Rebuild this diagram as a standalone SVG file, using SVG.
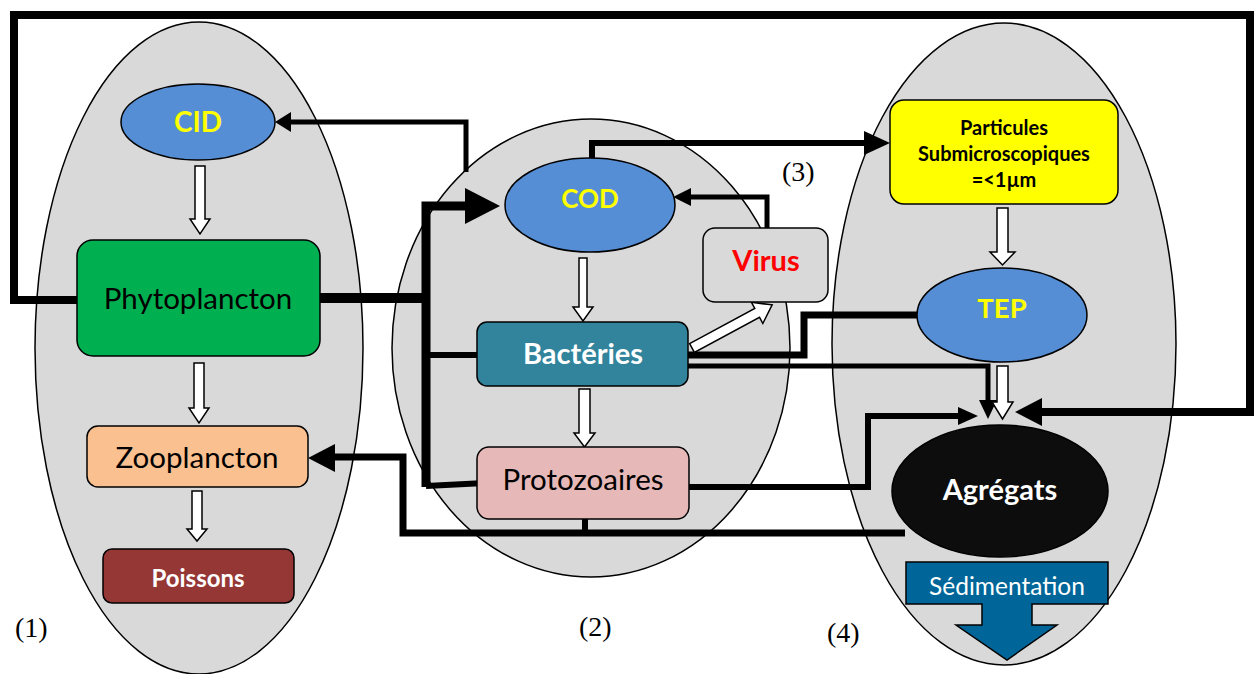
<svg xmlns="http://www.w3.org/2000/svg" width="1258" height="674" viewBox="0 0 1258 674">
<defs>
<style>
.zone{fill:#d9d9d9;stroke:#000;stroke-width:1.5}
.ln{fill:none;stroke:#000;stroke-linejoin:miter;stroke-linecap:butt}
.ah{fill:#000}
.wa{fill:#fff;stroke:#000;stroke-width:1.5;stroke-linejoin:miter}
.nd{stroke:#000;stroke-width:1.5}
.t{font-family:Lato,"Liberation Sans",sans-serif;text-anchor:middle}
.b{font-weight:bold}
.lab{font-family:"Liberation Serif",serif;font-size:28px;fill:#000}
</style>
</defs>
<rect width="1258" height="674" fill="#fff"/>
<g id="zones">
<ellipse class="zone" cx="199" cy="348" rx="164" ry="326"/>
<ellipse class="zone" cx="591" cy="348" rx="199" ry="229"/>
<ellipse class="zone" cx="1004" cy="344" rx="172" ry="321"/>
</g>
<g id="connectors">
<polyline class="ln" stroke-width="8" points="78,300 14,300 14,15 1250,15 1250,412 1040,412"/>
<polygon class="ah" points="1015,412 1042,398 1042,426"/>
<polyline class="ln" stroke-width="5" points="466,172 466,122 288,122"/>
<polygon class="ah" points="275,122 291,112 291,132"/>
<line class="ln" stroke-width="10" x1="320" y1="298" x2="430" y2="298"/>
<polyline class="ln" stroke-width="9" points="426,487 426,206 467,206"/>
<polygon class="ah" points="500,206 465,188 465,224"/>
<line class="ln" stroke-width="6" x1="426" y1="355" x2="483" y2="355"/>
<line class="ln" stroke-width="6" x1="426" y1="486" x2="485" y2="483"/>
<polyline class="ln" stroke-width="6" points="592,160 592,143 866,143"/>
<polygon class="ah" points="890,143 864,131 864,155"/>
<polyline class="ln" stroke-width="5" points="767,228 767,197 688,197"/>
<polygon class="ah" points="673,197 691,188 691,206"/>
<polyline class="ln" stroke-width="7" points="688,355 804,355 804,315 918,315"/>
<polyline class="ln" stroke-width="5" points="685,366 988,366 988,402"/>
<polygon class="ah" points="988,419 979,400 997,400"/>
<polyline class="ln" stroke-width="6" points="689,487 868,487 868,416 960,416"/>
<polygon class="ah" points="978,416 958,407 958,425"/>
<polyline class="ln" stroke-width="7" points="905,533 403,533 403,457 333,457"/>
<polygon class="ah" points="308,458 335,444 335,472"/>
<line class="ln" stroke-width="6" x1="585" y1="518" x2="585" y2="534"/>
<path class="wa" d="M195,166 H205 V219 H210 L200,234 L190,219 H195 Z"/>
<path class="wa" d="M194,363 H204 V408 H209 L199,423 L189,408 H194 Z"/>
<path class="wa" d="M192,491 H202 V529 H207 L197,541 L187,529 H192 Z"/>
<path class="wa" d="M579,258 H587 V307 H593 L583,321 L573,307 H579 Z"/>
<path class="wa" d="M579,389 H590 V433 H595 L584.5,447 L574,433 H579 Z"/>
<path class="wa" d="M997,208 H1008 V252 H1015 L1002.5,265 L990,252 H997 Z"/>
<path class="wa" d="M997,366 H1008 V402 H1013 L1002.5,419 L992,402 H997 Z"/>
<path class="wa" transform="translate(692,348) rotate(-28.3)" d="M0,-5 H74 V-12 L91,0 L74,12 V5 H0 Z"/>
</g>
<g id="CID">
<ellipse class="nd" cx="198" cy="122" rx="77" ry="38" fill="#558ed5"/>
<text class="t b" x="198" y="132" font-size="28" fill="#ffff00">CID</text>
</g>
<g id="Phytoplancton">
<rect class="nd" x="77" y="240" width="243" height="116" rx="16" fill="#00b050"/>
<text class="t" x="198" y="309" font-size="29.5" fill="#000">Phytoplancton</text>
</g>
<g id="Zooplancton">
<rect class="nd" x="87" y="426" width="221" height="61" rx="11" fill="#fac090"/>
<text class="t" x="197" y="468" font-size="29.5" fill="#000">Zooplancton</text>
</g>
<g id="Poissons">
<rect class="nd" x="103" y="549" width="191" height="54" rx="9" fill="#953735"/>
<text class="t b" x="198" y="587" font-size="24" fill="#fff">Poissons</text>
</g>
<g id="COD">
<ellipse class="nd" cx="590" cy="205" rx="85" ry="47" fill="#558ed5"/>
<text class="t b" x="590" y="208" font-size="26" fill="#ffff00">COD</text>
</g>
<g id="Virus">
<rect class="nd" x="703" y="228" width="125" height="74" rx="12" fill="#d9d9d9"/>
<text class="t b" x="766" y="271" font-size="29" fill="#ff0000">Virus</text>
</g>
<g id="Bacteries">
<rect class="nd" x="477" y="322" width="211" height="64" rx="10" fill="#31849b"/>
<text class="t b" x="583" y="364" font-size="29" fill="#fff">Bactéries</text>
</g>
<g id="Protozoaires">
<rect class="nd" x="477" y="447" width="212" height="72" rx="12" fill="#e6b9b8"/>
<text class="t" x="583" y="490" font-size="29.5" fill="#000">Protozoaires</text>
</g>
<g id="Particules">
<rect class="nd" x="890" y="100" width="228" height="104" rx="14" fill="#ffff00"/>
<text class="t b" x="1004" y="135" font-size="20" fill="#000">Particules</text>
<text class="t b" x="1004" y="161" font-size="20" fill="#000">Submicroscopiques</text>
<text class="t b" x="1004" y="187" font-size="20" fill="#000">=&lt;1µm</text>
</g>
<g id="TEP">
<ellipse class="nd" cx="1002" cy="315" rx="85" ry="47" fill="#558ed5"/>
<text class="t b" x="1002" y="318" font-size="27.5" fill="#ffff00">TEP</text>
</g>
<g id="Agregats">
<ellipse class="nd" cx="1000" cy="491" rx="108" ry="66" fill="#0d0d0d"/>
<text class="t b" x="1000" y="500" font-size="29" fill="#fff">Agrégats</text>
</g>
<g id="Sedimentation">
<path class="nd" d="M906,562 H1108 V604 H1032 V625 H1057 L1007,660 L956,625 H982 V604 H906 Z" fill="#006699"/>
<text class="t" x="1007" y="595" font-size="24.5" fill="#fff">Sédimentation</text>
</g>
<g id="labels">
<text class="lab" x="15" y="637">(1)</text>
<text class="lab" x="579" y="636">(2)</text>
<text class="lab" x="782" y="181">(3)</text>
<text class="lab" x="827" y="642">(4)</text>
</g>
</svg>
